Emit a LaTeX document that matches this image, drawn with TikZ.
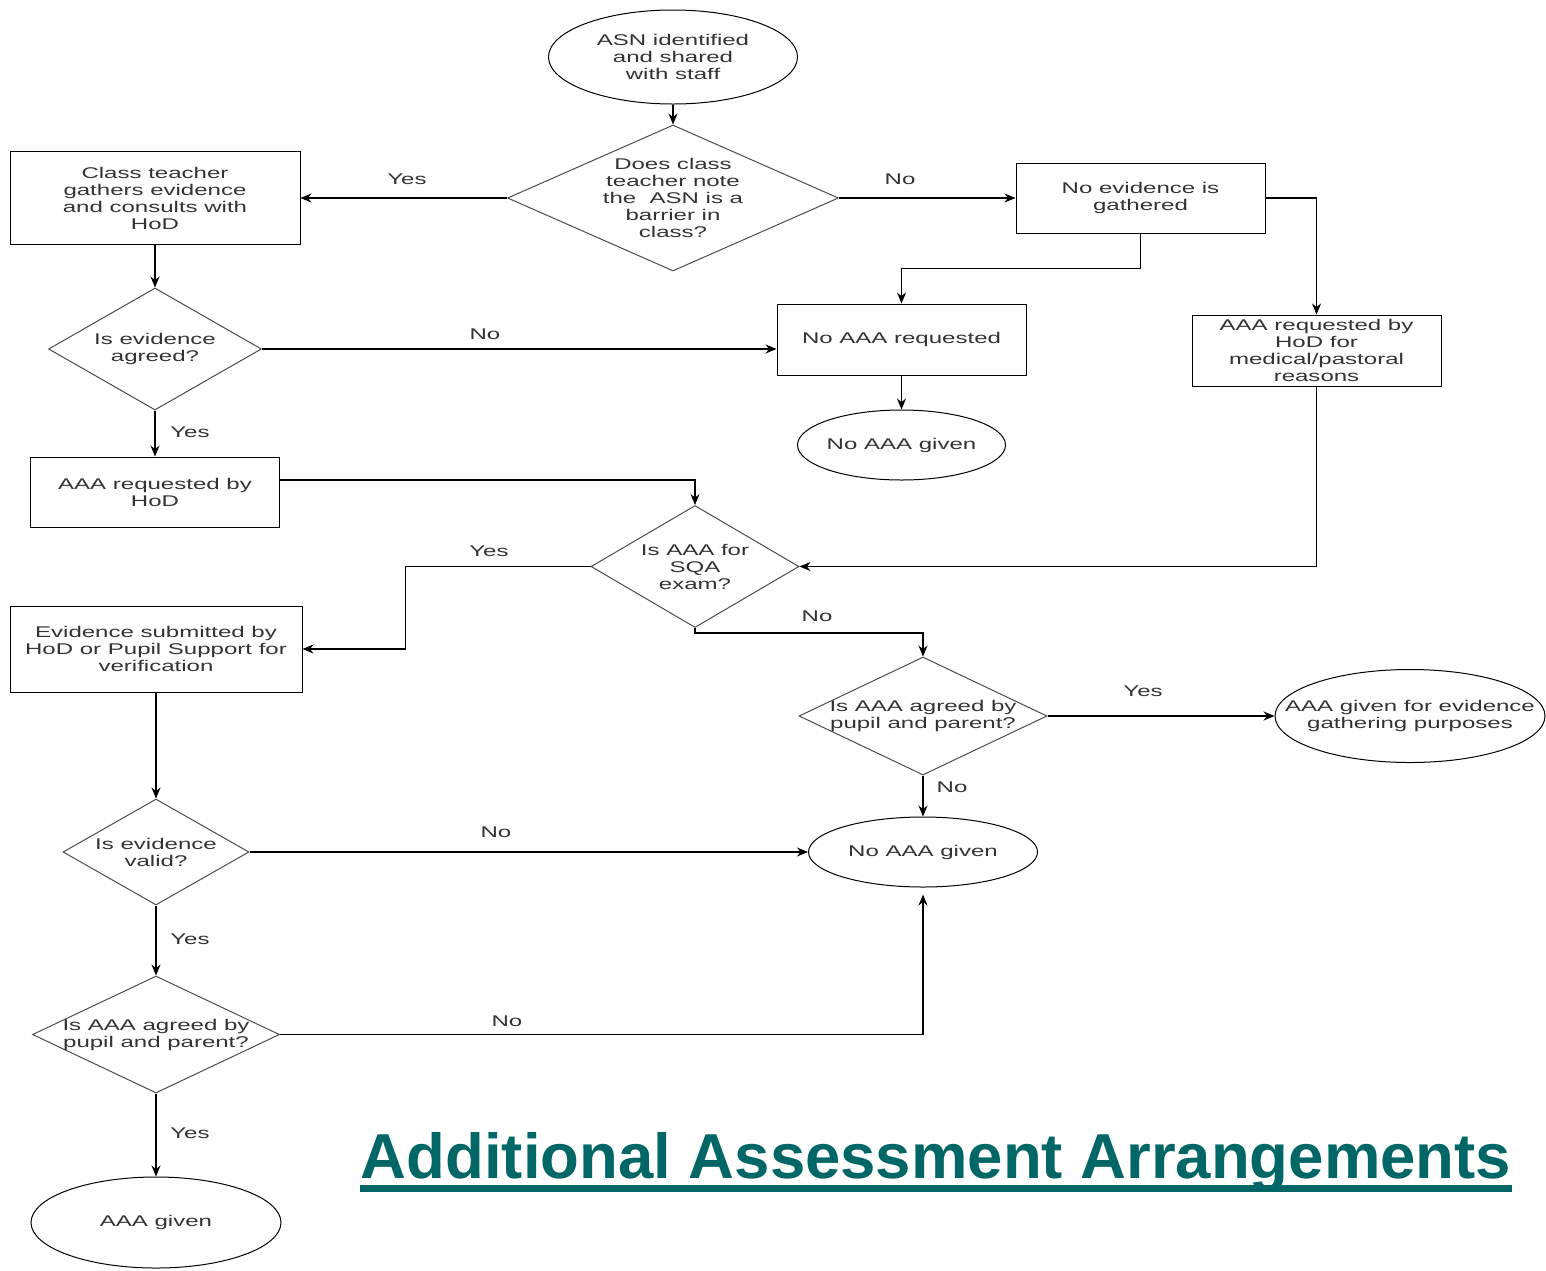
\documentclass[tikz,border=0pt]{standalone}
\usepackage{fontspec}
\setmainfont{Liberation Sans}
\newfontfamily\flowfont{Liberation Sans}[FakeStretch=1.55]
\usetikzlibrary{shapes.geometric, arrows.meta}
\definecolor{titleteal}{HTML}{006666}
\definecolor{txt}{HTML}{333333}
\tikzset{
  flow/.style={font=\flowfont\fontsize{15.5pt}{17pt}\selectfont, text=txt, align=center},
  box/.style={flow, draw=black, line width=1pt, inner sep=0pt},
  term/.style={ellipse, draw=black, line width=1pt, inner sep=0pt},
  ask/.style={diamond, draw=black!70, line width=1pt, inner sep=0pt},
  every label/.style={flow},
}
\begin{document}
\begin{tikzpicture}[x=1pt, y=-1pt, >={Stealth[length=11pt, width=9pt]}, line width=1.2pt]
\useasboundingbox (0,0) rectangle (1546,1270);

\node[term, minimum width=249pt, minimum height=94pt, label={center:ASN identified\\and shared\\with staff}] (asn) at (673,57) {};
\node[ask, minimum width=331pt, minimum height=146pt, label={center:Does class\\teacher note\\the\ \ ASN is a\\barrier in\\class?}] (q1) at (673,198) {};
\node[box, minimum width=290pt, minimum height=93pt] (ctg) at (155,198) {Class teacher\\gathers evidence\\and consults with\\HoD};
\node[box, minimum width=249pt, minimum height=70pt] (noev) at (1140.5,198) {No evidence is\\gathered};
\node[ask, minimum width=213pt, minimum height=122pt, label={center:Is evidence\\agreed?}] (evagree) at (155,349) {};
\node[box, minimum width=249pt, minimum height=71pt] (noaaa) at (901.5,339.5) {No AAA requested};
\node[box, minimum width=249pt, minimum height=71pt] (hodmed) at (1316.5,350.5) {AAA requested by\\HoD for\\medical/pastoral\\reasons};
\node[term, minimum width=208pt, minimum height=70pt, label={center:No AAA given}] (noaaa1) at (901.5,445) {};
\node[box, minimum width=249pt, minimum height=70pt] (aaahod) at (155,492) {AAA requested by\\HoD};
\node[ask, minimum width=208pt, minimum height=122pt, label={center:Is AAA for\\SQA\\exam?}] (sqa) at (695,566.5) {};
\node[box, minimum width=292pt, minimum height=86pt] (evsub) at (156,649) {Evidence submitted by\\HoD or Pupil Support for\\verification};
\node[ask, minimum width=248pt, minimum height=118pt, label={center:Is AAA agreed by\\pupil and parent?}] (agree2) at (923,716) {};
\node[term, minimum width=270pt, minimum height=93pt, label={center:AAA given for evidence\\gathering purposes}] (aaaev) at (1410,716) {};
\node[ask, minimum width=186pt, minimum height=106pt, label={center:Is evidence\\valid?}] (evvalid) at (156,852) {};
\node[term, minimum width=229pt, minimum height=70pt, label={center:No AAA given}] (noaaa2) at (923,852) {};
\node[ask, minimum width=247pt, minimum height=117pt, label={center:Is AAA agreed by\\pupil and parent?}] (agree1) at (156,1034.5) {};
\node[term, minimum width=250pt, minimum height=91pt, label={center:AAA given}] (given) at (156,1222.5) {};

\draw[->] (asn.south) -- (q1.north);
\draw[->] (q1.west) -- (ctg.east);
\draw[->] (q1.east) -- (noev.west);
\draw[->] (ctg.south) -- (evagree.north);
\draw[->] (noev.south) -- ++(0,35) -| (noaaa.north);
\draw[->] (noev.east) -| (hodmed.north);
\draw[->] (evagree.east) -- (evagree.east -| noaaa.west);
\draw[->] (evagree.south) -- (aaahod.north);
\draw[->] (noaaa.south) -- (noaaa1.north);
\draw[->] ([yshift=12pt]aaahod.east) -| (sqa.north);
\draw[->] (hodmed.south) |- (sqa.east);
\draw[->] (sqa.west) -- ++(-185,0) |- (evsub.east);
\draw[->] (sqa.south) -- ++(0,5) -| (agree2.north);
\draw[->] (evsub.south) -- (evvalid.north);
\draw[->] (agree2.east) -- (aaaev.west);
\draw[->] (agree2.south) -- (noaaa2.north);
\draw[->] (evvalid.east) -- (noaaa2.west);
\draw[->] (evvalid.south) -- (agree1.north);
\draw[->, shorten >=7pt] (agree1.east) -| (noaaa2.south);
\draw[->] (agree1.south) -- (given.north);

\node[flow] (yes1) at (407,179) {Yes};
\node[flow] (no1) at (900,179) {No};
\node[flow] (no2) at (485,334) {No};
\node[flow] (yes2) at (190,432) {Yes};
\node[flow] (yes3) at (489,551) {Yes};
\node[flow] (no3) at (817,616) {No};
\node[flow] (yes4) at (1143,691) {Yes};
\node[flow] (no4) at (952,787) {No};
\node[flow] (no5) at (496,832) {No};
\node[flow] (yes5) at (190,939) {Yes};
\node[flow] (no6) at (507,1021) {No};
\node[flow] (yes6) at (190,1133) {Yes};

\node[inner sep=0pt, anchor=base, text=titleteal, font=\bfseries\fontsize{63.5pt}{70pt}\selectfont] (title) at (936,1178) {Additional Assessment Arrangements};
\fill[titleteal] ([shift={(0,7)}]title.base west) rectangle ([shift={(0,14)}]title.base east);

\end{tikzpicture}
\end{document}
